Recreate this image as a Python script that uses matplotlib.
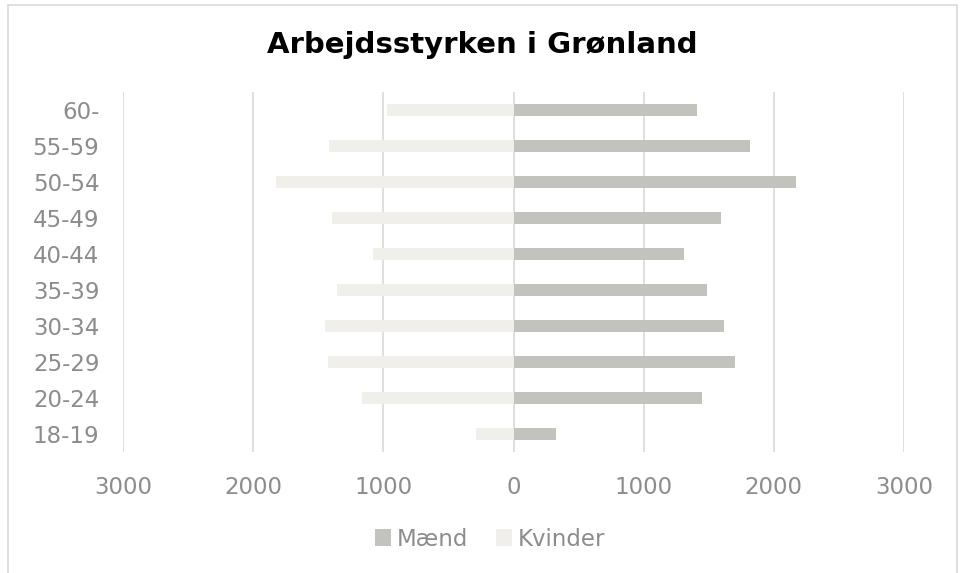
import numpy as np
import matplotlib
matplotlib.use("Agg")
from matplotlib import pyplot as plt
from matplotlib.patches import Rectangle

# age groups, bottom to top
groups = ['18-19', '20-24', '25-29', '30-34', '35-39', '40-44', '45-49', '50-54', '55-59', '60-']
maend = [323, 1446, 1705, 1618, 1490, 1308, 1597, 2169, 1820, 1408]
kvinder = [290, 1164, 1425, 1445, 1356, 1077, 1392, 1826, 1415, 972]
xticks = [-3000, -2000, -1000, 0, 1000, 2000, 3000]

col_m = '#c2c3bc'
col_k = '#f0efea'
txt = '#8c8c8c'

fig = plt.figure(figsize=(9.65, 5.73), dpi=100)
ax = fig.add_axes([123 / 965, 1 - 452 / 573, (904 - 123) / 965, 360 / 573])

y = np.arange(len(groups))
ax.barh(y, maend, height=0.35, color=col_m, label='Mænd', zorder=3)
ax.barh(y, [-v for v in kvinder], height=0.35, color=col_k, label='Kvinder', zorder=3)

ax.set_xlim(-3000, 3000)
ax.set_ylim(-0.5, len(groups) - 0.5)
ax.set_xticks(xticks)
ax.set_xticklabels([str(abs(t)) for t in xticks])
ax.set_yticks(y)
ax.set_yticklabels(groups)
ax.tick_params(axis='both', length=0, labelsize=16.5, colors=txt)
ax.tick_params(axis='x', pad=17)
ax.tick_params(axis='y', pad=17)
ax.xaxis.grid(True, color='#d9d9d9', linewidth=1.2, zorder=0)
for s in ax.spines.values():
    s.set_visible(False)

fig.text(0.5, 1 - 45 / 573, 'Arbejdsstyrken i Grønland', ha='center', va='center',
         fontsize=21, fontweight='bold', color='black')

leg = fig.legend(loc='center', bbox_to_anchor=(0.508, 1 - 539 / 573), ncol=2, frameon=False,
                 fontsize=16.5, handlelength=0.7, handleheight=0.7, handletextpad=0.25,
                 columnspacing=1.2)
for t in leg.get_texts():
    t.set_color(txt)

fig.patches.append(Rectangle((8 / 965, -0.01), 949 / 965, 1 - 5 / 573 + 0.01,
                             transform=fig.transFigure, fill=False,
                             edgecolor='#d9d9d9', linewidth=1.2))

fig.savefig('out.png', dpi=100)
